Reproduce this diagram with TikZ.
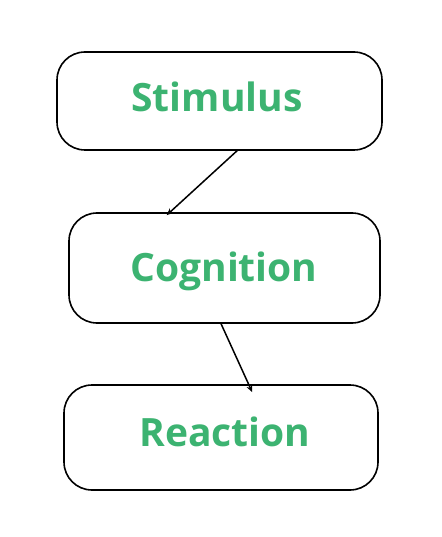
\documentclass[tikz,border=0pt]{standalone}
\usepackage{fontspec}
\setmainfont{Open Sans}
\usetikzlibrary{calc,arrows.meta}
\definecolor{lbl}{HTML}{3CB371}
\begin{document}
\begin{tikzpicture}[x=1pt,y=-1pt,
  box/.style={draw=black,line width=1.6pt,rounded corners=28pt,inner sep=0pt},
  lab/.style={text=lbl,font=\fontsize{39}{41}\selectfont\bfseries},
  conn/.style={line width=1.5pt,-{Stealth[length=7pt,width=6pt]}}]
\useasboundingbox[fill=white] (0,0) rectangle (441,537);
\node[box,minimum width=325pt,minimum height=98pt] (s) at (219.5,101) {};
\node[box,minimum width=311pt,minimum height=110pt] (c) at (224.5,268) {};
\node[box,minimum width=314pt,minimum height=105pt] (r) at (221,437.5) {};
\node[lab] (st) at (217,97) {Stimulus};
\node[lab] (ct) at (224,271) {Cognition};
\node[lab] (rt) at (225,432) {Reaction};
\coordinate (a1) at ($(s.south west)!0.557!(s.south east)+(0,-1)$);
\coordinate (b1) at ($(c.north west)!0.315!(c.north east)+(0,3)$);
\coordinate (a2) at ($(c.south west)!0.489!(c.south east)$);
\coordinate (b2) at ($(r.north west)!0.599!(r.north east)+(0,8)$);
\draw[conn] (a1) -- (b1);
\draw[conn] (a2) -- (b2);
\end{tikzpicture}
\end{document}
